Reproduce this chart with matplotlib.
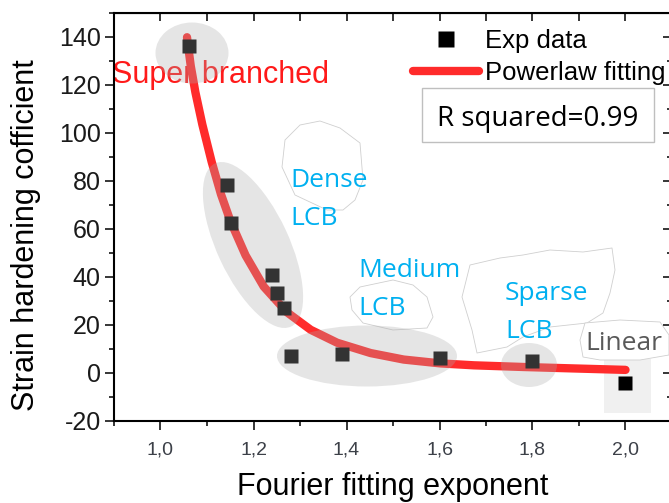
import matplotlib
matplotlib.use("Agg")
import matplotlib.pyplot as plt
from matplotlib.patches import Ellipse, Polygon, Rectangle
from matplotlib.transforms import Affine2D
from matplotlib.ticker import MultipleLocator, FuncFormatter

plt.rcParams['font.family'] = ['Liberation Sans', 'DejaVu Sans']
plt.rcParams['axes.unicode_minus'] = False

# experimental points
exp_x = [1.061, 1.143, 1.151, 1.240, 1.251, 1.265, 1.280, 1.391, 1.601, 1.800, 2.000]
exp_y = [136.4, 78.2, 62.3, 41.0, 33.3, 27.1, 6.9, 7.9, 6.2, 5.1, -4.1]

# power law fit curve
fit_x = [1.057, 1.065, 1.075, 1.090, 1.110, 1.130, 1.150, 1.183, 1.222, 1.272,
         1.323, 1.380, 1.452, 1.523, 1.602, 1.674, 1.781, 1.889, 2.000]
fit_y = [139.9, 128.0, 117.0, 103.5, 88.0, 74.5, 63.5, 49.0, 36.0, 25.3,
         18.0, 12.6, 8.3, 5.6, 4.0, 3.2, 2.5, 1.9, 1.3]

W, H = 669, 503
fig = plt.figure(figsize=(W / 100, H / 100), dpi=100)
ax = fig.add_axes([114 / W, 1 - 421 / H, 558 / W, 408 / H])
# pixel coords (y down) for the annotation shapes
pxt = Affine2D().scale(1 / W, -1 / H).translate(0, 1) + fig.transFigure

red = '#ff2b2b'
line, = ax.plot(fit_x, fit_y, color=red, lw=6, solid_capstyle='round', zorder=3,
                label='Powerlaw fitting')
pts, = ax.plot(exp_x, exp_y, 's', color='black', ms=10.5, mec='none', zorder=4,
               label='Exp data', linestyle='none')

ax.set_xlim(0.9, 2.1)
ax.set_ylim(-20, 150)

# gray highlight ellipses (drawn on top, semi transparent)
gray = dict(facecolor='#aaaaaa', edgecolor='none', alpha=0.3, zorder=5, transform=pxt)
ax.add_patch(Ellipse((192, 53), 73, 61, **gray))
ax.add_patch(Ellipse((253, 245), 72, 180, angle=-25, **gray))
ax.add_patch(Ellipse((367, 356), 180, 61, **gray))
ax.add_patch(Ellipse((529, 365), 56, 44, **gray))
ax.add_patch(Rectangle((604, 359), 47, 54, facecolor='#f0f0f0', edgecolor='none',
                       zorder=1, transform=pxt))

# white clouds behind the labels
clouds = [
    [(320, 121), (340, 128), (360, 143), (363, 180), (355, 200), (343, 210), (327, 210),
     (295, 195), (282, 167), (285, 140), (300, 125)],
    [(350, 297), (360, 287), (393, 280), (413, 285), (427, 297), (433, 317), (427, 328),
     (393, 330), (363, 323), (352, 310)],
    [(470, 265), (500, 258), (523, 255), (550, 250), (583, 252), (612, 248), (615, 270),
     (610, 293), (603, 313), (587, 323), (550, 327), (523, 337), (507, 347), (477, 353),
     (472, 330), (462, 297)],
    [(585, 323), (620, 320), (660, 322), (669, 335), (669, 355), (640, 360), (600, 360),
     (583, 357), (580, 340)],
]
for c in clouds:
    ax.add_patch(Polygon(c, closed=True, facecolor='white', edgecolor='#cfcfcf', lw=0.6,
                         joinstyle='round', zorder=1.5, transform=pxt))

ax.text(112, 83, 'Super branched', color='#ff1a1a', fontsize=22, transform=pxt,
        ha='left', va='baseline', zorder=2)

seg = ['Open Sans', 'DejaVu Sans']
blue = '#00b0f0'
for tx, ty, s in [(290, 187, 'Dense'), (290, 225, 'LCB'),
                  (358, 277, 'Medium'), (358, 315, 'LCB'),
                  (505, 300, 'Sparse'), (505, 338, 'LCB')]:
    ax.text(tx, ty, s, color=blue, fontsize=19, family=seg, transform=pxt,
            ha='left', va='baseline', zorder=2.5)
ax.text(585, 350, 'Linear', color='#595959', fontsize=19, family=seg, transform=pxt,
        ha='left', va='baseline', zorder=2.5)

ax.add_patch(Rectangle((422, 88), 232, 54, facecolor='white', edgecolor='#bfbfbf',
                       lw=1, zorder=2, transform=pxt))
ax.text(437, 126, 'R squared=0.99', color='black', fontsize=20, family=seg,
        transform=pxt, ha='left', va='baseline', zorder=2.5)

ax.legend(handles=[pts, line], loc='upper left', bbox_to_anchor=(413, 29),
          bbox_transform=pxt, frameon=False, fontsize=18.5, borderpad=0,
          borderaxespad=0, handlelength=2.55, handletextpad=0.25,
          labelspacing=0.3, markerscale=1.07)

# axes and ticks
for sp in ax.spines.values():
    sp.set_linewidth(1.5)
ax.xaxis.set_major_locator(MultipleLocator(0.2))
ax.xaxis.set_minor_locator(MultipleLocator(0.1))
ax.yaxis.set_major_locator(MultipleLocator(20))
ax.yaxis.set_minor_locator(MultipleLocator(10))
ax.xaxis.set_major_formatter(FuncFormatter(lambda v, p: f'{v:.1f}'.replace('.', ',')))
ax.tick_params(which='major', direction='out', length=6.5, width=1.1)
ax.tick_params(which='minor', direction='out', length=3.8, width=1.1)
ax.tick_params(axis='x', labelsize=14, labelcolor='#3c4048', pad=8)
ax.tick_params(axis='y', labelsize=18, labelcolor='#1a1a1a', pad=3)

top = ax.secondary_xaxis('top')
top.xaxis.set_major_locator(MultipleLocator(0.1))
top.tick_params(direction='in', length=6, width=1.1, labeltop=False)
right = ax.secondary_yaxis('right')
right.yaxis.set_major_locator(MultipleLocator(20))
right.yaxis.set_minor_locator(MultipleLocator(10))
right.tick_params(which='major', direction='in', length=6.5, width=1.1, labelright=False)
right.tick_params(which='minor', direction='in', length=3.8, width=1.1)

ax.set_xlabel('Fourier fitting exponent', fontsize=22)
ax.set_ylabel('Strain hardening cofficient', fontsize=22)
ax.xaxis.set_label_coords(0.5, -0.125)
ax.yaxis.set_label_coords(-0.13, 0.455)

fig.savefig('out.png', dpi=100)
